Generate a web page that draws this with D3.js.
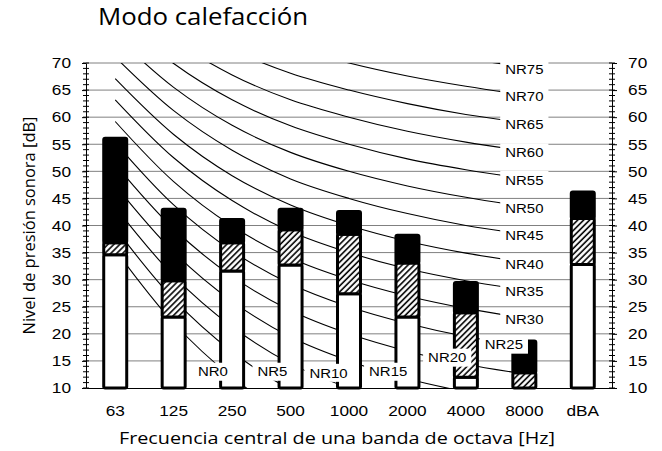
<!DOCTYPE html>
<html>
<head>
<meta charset="utf-8">
<script src="https://cdn.jsdelivr.net/npm/d3@7"></script>
<style>
  body { margin: 0; background: #fff; }
  text { font-family: "Liberation Sans", Arial, sans-serif; }
  .ttl { font-family: "Open Sans", "Noto Sans", sans-serif; }
</style>
</head>
<body>
<div id="chart"></div>
<script>
// Bands on the x axis
var bands = ["63", "125", "250", "500", "1000", "2000", "4000", "8000", "dBA"];
var octaves = ["63", "125", "250", "500", "1000", "2000", "4000", "8000"];

// Stacked bar levels [dB]: white part top, hatched part top, black part top
var whiteTop = [34.6, 23.1, 31.6, 32.7, 27.4, 23.1, 12.0, 10.0, 32.8];
var hatchTop = [36.8, 29.8, 36.8, 39.2, 38.4, 33.1, 23.9, 12.8, 41.3];
var blackTop = [56.1, 43.0, 41.1, 43.0, 42.6, 38.2, 29.5, 18.7, 46.2];

// NR curves, level per octave band 63..8000 Hz
var nrNames = ["NR0", "NR5", "NR10", "NR15", "NR20", "NR25", "NR30", "NR35",
               "NR40", "NR45", "NR50", "NR55", "NR60", "NR65", "NR70", "NR75"];
var nrLevels = [
  [35.5, 22.0, 12.0, 4.8, 0.0, -3.5, -6.1, -8.0],
  [39.5, 26.4, 16.7, 9.7, 5.0, 1.6, -1.0, -2.9],
  [43.4, 30.7, 21.3, 14.5, 10.0, 6.7, 4.2, 2.3],
  [47.4, 35.1, 26.0, 19.4, 15.0, 11.7, 9.3, 7.5],
  [51.3, 39.4, 30.6, 24.3, 20.0, 16.8, 14.4, 12.6],
  [55.3, 43.8, 35.3, 29.2, 25.0, 21.9, 19.5, 17.8],
  [59.2, 48.1, 39.9, 34.0, 30.0, 27.0, 24.7, 22.9],
  [63.2, 52.5, 44.6, 38.9, 35.0, 32.0, 29.8, 28.1],
  [67.1, 56.8, 49.2, 43.8, 40.0, 37.1, 34.9, 33.2],
  [71.1, 61.2, 53.9, 48.6, 45.0, 42.2, 40.0, 38.4],
  [75.0, 65.5, 58.5, 53.5, 50.0, 47.3, 45.2, 43.5],
  [79.0, 69.9, 63.2, 58.4, 55.0, 52.3, 50.3, 48.7],
  [82.9, 74.2, 67.8, 63.2, 60.0, 57.4, 55.4, 53.8],
  [86.9, 78.6, 72.5, 68.1, 65.0, 62.5, 60.5, 59.0],
  [90.8, 82.9, 77.1, 73.0, 70.0, 67.6, 65.7, 64.1],
  [94.8, 87.3, 81.8, 77.9, 75.0, 72.6, 70.8, 69.3]
];
// where each NR label sits (band index, level)
var labelBand = [1.67, 2.69, 3.65, 4.67, 5.68, 6.65, 7, 7, 7, 7, 7, 7, 7, 7, 7, 7];
var labelLevel = [13.0, 13.0, 12.8, 13.0, 15.6, 18.0, 22.7, 27.8, 32.9, 38.1,
                  43.2, 48.4, 53.5, 58.7, 63.8, 68.9];

var yMajor = d3.range(10, 71, 5);
var yMinor = d3.range(10, 71, 1);

var W = 662, H = 451;
var margin = {top: 63, right: 50, bottom: 63, left: 86},
    width = W - margin.left - margin.right,
    height = H - margin.top - margin.bottom;

var x = d3.scaleBand().domain(bands).range([0, width]);
var xc = function(d) { return x(d) + x.bandwidth() / 2; };
var xi = d3.scaleLinear().domain([0, bands.length - 1])
           .range([xc(bands[0]), xc(bands[bands.length - 1])]);
var y = d3.scaleLinear().domain([10, 70]).range([height, 0]);

var svg = d3.select("#chart").append("svg")
    .attr("width", W).attr("height", H);

var defs = svg.append("defs");
defs.append("clipPath").attr("id", "plot")
  .append("rect").attr("width", width).attr("height", height);
var pat = defs.append("pattern").attr("id", "hatch")
    .attr("patternUnits", "userSpaceOnUse")
    .attr("width", 4.2).attr("height", 4.2)
    .attr("patternTransform", "rotate(45)");
pat.append("rect").attr("width", 4.2).attr("height", 4.2).attr("fill", "#fff");
pat.append("line").attr("x1", 1).attr("x2", 1).attr("y1", 0).attr("y2", 4.2)
   .attr("stroke", "#000").attr("stroke-width", 1.6);

var g = svg.append("g")
    .attr("transform", "translate(" + margin.left + "," + margin.top + ")");

// horizontal gridlines
g.selectAll(".grid").data(yMajor.slice(1)).enter().append("line")
    .attr("x1", 0).attr("x2", width)
    .attr("y1", function(d) { return y(d); }).attr("y2", function(d) { return y(d); })
    .attr("stroke", "#808080").attr("stroke-width", 1);

// NR curves
var line = d3.line()
    .x(function(d, i) { return xc(octaves[i]); })
    .y(function(d) { return y(d); })
    .curve(d3.curveCatmullRom);

g.append("g").attr("clip-path", "url(#plot)")
  .selectAll("path").data(nrLevels).enter().append("path")
    .attr("d", line)
    .attr("fill", "none").attr("stroke", "#000").attr("stroke-width", 1.1);

// bars
var bw = 23;
var bars = g.selectAll(".bar").data(bands).enter().append("g");
function seg(sel, lo, hi, fill) {
  sel.append("rect")
    .attr("x", function(d) { return xc(d) - bw / 2; })
    .attr("width", bw)
    .attr("y", function(d, i) { return y(hi[i]); })
    .attr("height", function(d, i) { return y(lo[i]) - y(hi[i]); })
    .attr("rx", 1.5)
    .attr("fill", fill).attr("stroke", "#000").attr("stroke-width", 3);
}
seg(bars, bands.map(function() { return 10; }), whiteTop, "#fff");
seg(bars, whiteTop, hatchTop, "url(#hatch)");
seg(bars, hatchTop, blackTop, "#000");

// axes
var sx = "scale(1.15,1)";
var yl = g.append("g")
    .call(d3.axisLeft(y).tickValues(yMajor).tickSize(4).tickPadding(9).tickSizeOuter(0));
yl.selectAll("text").attr("transform", sx).style("font-size", "15px");
var yr = g.append("g").attr("transform", "translate(" + width + ",0)")
    .call(d3.axisRight(y).tickValues(yMajor).tickSize(5).tickPadding(9).tickSizeOuter(0));
yr.selectAll("text").attr("transform", sx).style("font-size", "15px");
[0, width].forEach(function(px) {
  g.append("g").selectAll("line").data(yMinor).enter().append("line")
    .attr("x1", px - 3).attr("x2", px + 3)
    .attr("y1", function(d) { return y(d); }).attr("y2", function(d) { return y(d); })
    .attr("stroke", "#000");
});
var xa = g.append("g").attr("transform", "translate(0," + height + ")")
    .call(d3.axisBottom(x).tickSize(0).tickPadding(17).tickSizeOuter(0));
xa.selectAll("text").attr("transform", sx).style("font-size", "15px");
g.selectAll(".domain").attr("stroke", "#000");

// NR labels with white boxes
var lab = g.selectAll(".nrl").data(nrNames).enter().append("g")
    .attr("transform", function(d, i) {
      return "translate(" + xi(labelBand[i]) + "," + y(labelLevel[i]) + ")";
    });
lab.append("text").text(function(d) { return d; })
    .attr("text-anchor", "middle").attr("dy", "0.36em")
    .attr("transform", sx).style("font-size", "13px");
lab.insert("rect", "text")
    .attr("x", function() { return -(this.nextSibling.getComputedTextLength() * 1.15) / 2 - 5; })
    .attr("width", function() { return this.nextSibling.getComputedTextLength() * 1.15 + 10; })
    .attr("y", -9).attr("height", 18).attr("fill", "#fff");

// titles
svg.append("text").attr("class", "ttl")
    .attr("x", 98).attr("y", 25).style("font-size", "23px")
    .attr("textLength", 210).attr("lengthAdjust", "spacingAndGlyphs")
    .text("Modo calefacción");
svg.append("text").attr("class", "ttl")
    .attr("transform", "translate(35," + (margin.top + height / 2) + ") rotate(-90)")
    .attr("text-anchor", "middle").style("font-size", "16px")
    .attr("textLength", 218).attr("lengthAdjust", "spacingAndGlyphs")
    .text("Nivel de presión sonora [dB]");
svg.append("text").attr("class", "ttl")
    .attr("x", 337).attr("y", 444).attr("text-anchor", "middle").style("font-size", "16px")
    .attr("textLength", 436).attr("lengthAdjust", "spacingAndGlyphs")
    .text("Frecuencia central de una banda de octava [Hz]");
</script>
</body>
</html>
